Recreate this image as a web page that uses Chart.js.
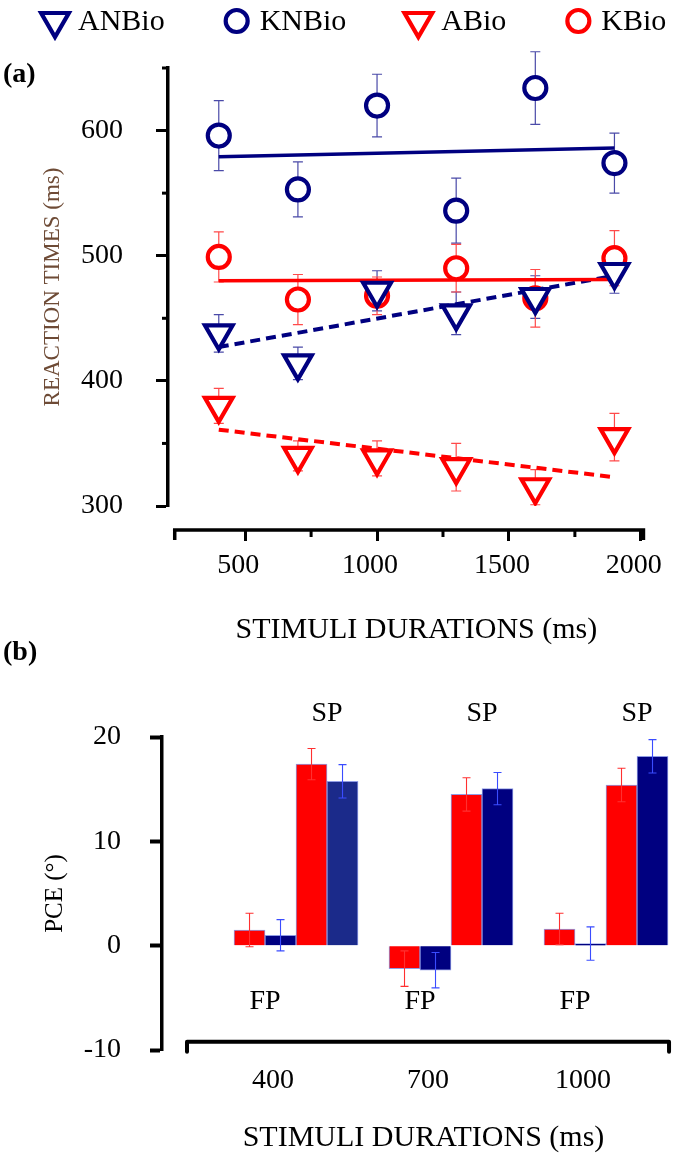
<!DOCTYPE html>
<html><head><meta charset="utf-8">
<script src="https://cdn.jsdelivr.net/npm/chart.js@4.4.1/dist/chart.umd.min.js"></script>
<style>
html,body{margin:0;padding:0;background:#fff;}
#wrap{position:relative;width:685px;height:1160px;overflow:hidden;background:#fff;}
#cA{position:absolute;left:0;top:0;}
#cB{position:absolute;left:0;top:625px;}
</style></head><body>
<div id="wrap"><canvas id="cA" width="685" height="660"></canvas><canvas id="cB" width="685" height="535"></canvas></div>
<script>
// ---------- Panel (a) data ----------
const durationsA = [400, 700, 1000, 1300, 1600, 1900];
const anbio    = [438, 414, 472, 454, 467, 487];
const anbioErr = [15, 13, 16, 17, 17, 17];
const knbio    = [596, 553, 620, 536, 634, 574];
const knbioErr = [28, 22, 25, 26, 29, 24];
const abio     = [380, 340, 338, 331, 315, 355];
const abioErr  = [14, 12, 14, 19, 14, 19];
const kbio     = [499, 465, 468, 490, 466, 498];
const kbioErr  = [20, 20, 15, 19, 23, 22];
const trendX     = [400, 1900];
const knbioTrend = [579, 586];
const kbioTrend  = [480, 481];
const anbioTrend = [427, 484];
const abioTrend  = [361, 323];
const yTicksA = [300, 350, 400, 450, 500, 550, 600, 650];
const xTicksA = [500, 750, 1000, 1250, 1500, 1750, 2000];

// ---------- Panel (b) data ----------
const durationsB  = [400, 700, 1000];
const fpBio       = [1.5, -2.2, 1.6];
const fpBioErr    = [1.6, 1.7, 1.5];
const fpNBio      = [1.0, -2.35, 0.2];
const fpNBioErr   = [1.5, 1.7, 1.6];
const spBio       = [17.4, 14.5, 15.4];
const spBioErr    = [1.5, 1.6, 1.6];
const spNBio      = [15.75, 15.05, 18.15];
const spNBioErr   = [1.6, 1.55, 1.6];
const yTicksB = [-10, 0, 10, 20];

const FONT = "'Liberation Serif','Times New Roman',serif";
Chart.defaults.font.family = FONT;
Chart.defaults.color = '#000';

const NAVY = '#000080', RED = '#ff0000';
function pts(xs, ys){ return xs.map((x, i) => ({x: x, y: ys[i]})); }

function drawMarker(ctx, style, x, y, r, color, lw){
  ctx.save();
  ctx.lineWidth = lw; ctx.strokeStyle = color; ctx.fillStyle = '#fff';
  ctx.beginPath();
  if (style === 'circle') ctx.arc(x, y, r, 0, Math.PI * 2);
  else {
    const h = r * Math.sqrt(3) / 2;
    ctx.moveTo(x - h, y - r / 2); ctx.lineTo(x + h, y - r / 2); ctx.lineTo(x, y + r); ctx.closePath();
  }
  ctx.fill(); ctx.stroke();
  ctx.restore();
}

// axis geometry constants (values in data units)
const xAxisPosA = 280.8, xAxisStartA = 233, xAxisEndA = 2010;
const xAxisPosB = -9.2, xAxisStartB = 189, xAxisEndB = 1122;
const spLabelY = 22.2, fpLabelY = -5.4;

const panelAPlugin = {
  id: 'panelA',
  beforeDatasetsDraw(chart){
    const {ctx, scales: {x, y}} = chart;
    chart.data.datasets.forEach(ds => {
      if (!ds.err) return;
      ctx.save();
      ctx.strokeStyle = ds.errColor; ctx.lineWidth = 1.2;
      ds.data.forEach((p, i) => {
        const px = x.getPixelForValue(p.x);
        const t = y.getPixelForValue(p.y + ds.err[i]);
        const b = y.getPixelForValue(p.y - ds.err[i]);
        ctx.beginPath();
        ctx.moveTo(px, t); ctx.lineTo(px, b);
        ctx.moveTo(px - 5, t); ctx.lineTo(px + 5, t);
        ctx.moveTo(px - 5, b); ctx.lineTo(px + 5, b);
        ctx.stroke();
      });
      ctx.restore();
    });
  },
  afterDraw(chart){
    const {ctx, scales: {x, y}, chartArea} = chart;
    ctx.save();
    ctx.strokeStyle = '#000'; ctx.lineWidth = 3;
    yTicksA.filter(v => v % 100 !== 0).forEach(v => {
      const py = y.getPixelForValue(v);
      ctx.beginPath(); ctx.moveTo(chartArea.left - 6, py); ctx.lineTo(chartArea.left, py); ctx.stroke();
    });
    const y0 = y.getPixelForValue(xAxisPosA);
    const xs = x.getPixelForValue(xAxisStartA), xe = x.getPixelForValue(xAxisEndA);
    ctx.lineWidth = 3.5;
    ctx.beginPath();
    ctx.moveTo(xs, y0 + 10); ctx.lineTo(xs, y0); ctx.lineTo(xe, y0); ctx.lineTo(xe, y0 + 10);
    ctx.stroke();
    ctx.lineWidth = 3;
    xTicksA.filter(v => v % 500 !== 0).forEach(v => {
      const px = x.getPixelForValue(v);
      ctx.beginPath(); ctx.moveTo(px, y0); ctx.lineTo(px, y0 + 7); ctx.stroke();
    });
    ctx.font = '30px ' + FONT; ctx.textBaseline = 'middle'; ctx.textAlign = 'left';
    let lx = 42; const ly = 21;
    chart.data.datasets.filter(d => d.legend).forEach(d => {
      drawMarker(ctx, d.pointStyle, lx + 13, ly, d.pointRadius, d.pointBorderColor, d.pointBorderWidth);
      ctx.fillStyle = '#000';
      ctx.fillText(d.label, lx + 36, ly + 1);
      lx += 36 + ctx.measureText(d.label).width + 59;
    });
    ctx.font = 'bold 28px ' + FONT;
    ctx.fillText('(a)', 3, 75);
    ctx.restore();
  }
};

new Chart(document.getElementById('cA'), {
  type: 'scatter',
  data: {
    datasets: [
      {label: 'ANBio', data: pts(durationsA, anbio), err: anbioErr, errColor: '#4a4aa8', legend: true,
       pointStyle: 'triangle', pointRotation: 180, pointRadius: 16, pointBorderColor: NAVY, pointBackgroundColor: '#fff', pointBorderWidth: 4.2, order: 1},
      {label: 'KNBio', data: pts(durationsA, knbio), err: knbioErr, errColor: '#4a4aa8', legend: true,
       pointStyle: 'circle', pointRadius: 11, pointBorderColor: NAVY, pointBackgroundColor: '#fff', pointBorderWidth: 4.2, order: 2},
      {label: 'ABio', data: pts(durationsA, abio), err: abioErr, errColor: '#ff4a4a', legend: true,
       pointStyle: 'triangle', pointRotation: 180, pointRadius: 16, pointBorderColor: RED, pointBackgroundColor: '#fff', pointBorderWidth: 4.2, order: 3},
      {label: 'KBio', data: pts(durationsA, kbio), err: kbioErr, errColor: '#ff4a4a', legend: true,
       pointStyle: 'circle', pointRadius: 11, pointBorderColor: RED, pointBackgroundColor: '#fff', pointBorderWidth: 4.2, order: 4},
      {type: 'line', label: 'KNBio trend', data: pts(trendX, knbioTrend), borderColor: NAVY, borderWidth: 3.5, pointRadius: 0, fill: false, order: 5},
      {type: 'line', label: 'KBio trend', data: pts(trendX, kbioTrend), borderColor: RED, borderWidth: 3.5, pointRadius: 0, fill: false, order: 6},
      {type: 'line', label: 'ANBio trend', data: pts(trendX, anbioTrend), borderColor: NAVY, borderWidth: 4, borderDash: [10, 6], pointRadius: 0, fill: false, order: 7},
      {type: 'line', label: 'ABio trend', data: pts(trendX, abioTrend), borderColor: RED, borderWidth: 4, borderDash: [10, 6], pointRadius: 0, fill: false, order: 8}
    ]
  },
  options: {
    responsive: false, animation: false, events: [],
    layout: {padding: {top: 68, bottom: 154, left: 0, right: 0}},
    plugins: {legend: {display: false}, tooltip: {enabled: false}},
    scales: {
      x: {
        type: 'linear', position: {y: xAxisPosA}, min: 207.5, max: 2090.9, offset: false,
        afterBuildTicks(s){ s.ticks = xTicksA.map(v => ({value: v})); },
        afterFit(s){ s.height = 118; s.paddingLeft = 0; s.paddingRight = 0; },
        grid: {drawOnChartArea: false, drawTicks: true, tickLength: 11, tickWidth: 3,
               tickColor: c => (c.tick && c.tick.value % 500 === 0) ? '#000' : 'rgba(0,0,0,0)'},
        border: {display: false},
        ticks: {autoSkip: false, maxRotation: 0, padding: 8, labelOffset: -7, color: '#000', font: {size: 28},
                callback: v => (v % 500 === 0 ? String(v) : '')},
        title: {display: true, text: 'STIMULI DURATIONS (ms)', color: '#000', font: {size: 30}, padding: 0}
      },
      y: {
        min: 300, max: 650,
        afterBuildTicks(s){ s.ticks = yTicksA.map(v => ({value: v})); },
        afterFit(s){ s.width = 168; s.paddingTop = 0; s.paddingBottom = 0; },
        grid: {drawOnChartArea: false, drawTicks: true, tickLength: 12, tickWidth: 3,
               tickColor: c => (c.tick && c.tick.value % 100 === 0) ? '#000' : 'rgba(0,0,0,0)'},
        border: {display: true, width: 3.5, color: '#000'},
        ticks: {autoSkip: false, padding: 33, color: '#000', font: {size: 28},
                callback: v => (v % 100 === 0 ? String(v) : '')},
        title: {display: true, text: 'REACTION TIMES (ms)', color: '#6e4b36', font: {size: 23}, padding: {top: 39, bottom: 0}}
      }
    }
  },
  plugins: [panelAPlugin]
});

const panelBPlugin = {
  id: 'panelB',
  afterDatasetsDraw(chart){
    const {ctx, scales: {y}} = chart;
    chart.data.datasets.forEach((ds, di) => {
      const meta = chart.getDatasetMeta(di);
      ctx.save();
      ctx.strokeStyle = ds.errColor; ctx.lineWidth = 1.1;
      meta.data.forEach((el, i) => {
        const v = ds.data[i].y, e = ds.err[i];
        const t = y.getPixelForValue(v + e), b = y.getPixelForValue(v - e);
        ctx.beginPath();
        ctx.moveTo(el.x, t); ctx.lineTo(el.x, b);
        ctx.moveTo(el.x - 4, t); ctx.lineTo(el.x + 4, t);
        ctx.moveTo(el.x - 4, b); ctx.lineTo(el.x + 4, b);
        ctx.stroke();
      });
      ctx.restore();
    });
  },
  afterDraw(chart){
    const {ctx, scales: {x, y}} = chart;
    ctx.save();
    const y0 = y.getPixelForValue(xAxisPosB);
    const xs = x.getPixelForValue(xAxisStartB), xe = x.getPixelForValue(xAxisEndB);
    ctx.strokeStyle = '#000'; ctx.lineWidth = 4; ctx.lineCap = 'round'; ctx.lineJoin = 'round';
    ctx.beginPath();
    ctx.moveTo(xs, y0 + 10); ctx.lineTo(xs, y0); ctx.lineTo(xe, y0); ctx.lineTo(xe, y0 + 10);
    ctx.stroke();
    ctx.fillStyle = '#000'; ctx.font = '28px ' + FONT; ctx.textAlign = 'center'; ctx.textBaseline = 'middle';
    const m0 = chart.getDatasetMeta(0), m1 = chart.getDatasetMeta(1), m2 = chart.getDatasetMeta(2), m3 = chart.getDatasetMeta(3);
    durationsB.forEach((d, i) => {
      ctx.fillText('SP', (m2.data[i].x + m3.data[i].x) / 2, y.getPixelForValue(spLabelY));
      ctx.fillText('FP', (m0.data[i].x + m1.data[i].x) / 2, y.getPixelForValue(fpLabelY));
    });
    ctx.textAlign = 'left';
    ctx.font = 'bold 28px ' + FONT;
    ctx.fillText('(b)', 3, 28);
    ctx.restore();
  }
};

new Chart(document.getElementById('cB'), {
  type: 'bar',
  data: {
    datasets: [
      {label: 'FP Bio', data: pts(durationsB, fpBio), err: fpBioErr, backgroundColor: RED, errColor: '#ff3030'},
      {label: 'FP NBio', data: pts(durationsB, fpNBio), err: fpNBioErr, backgroundColor: NAVY, errColor: '#3a4cff'},
      {label: 'SP Bio', data: pts(durationsB, spBio), err: spBioErr, backgroundColor: RED, errColor: '#ff3030'},
      {label: 'SP NBio', data: pts(durationsB, spNBio), err: spNBioErr, backgroundColor: ['#1b2a8a', NAVY, NAVY], errColor: '#3a4cff'}
    ]
  },
  options: {
    responsive: false, animation: false, events: [],
    layout: {padding: {top: 112, bottom: 110, left: 0, right: 0}},
    plugins: {legend: {display: false}, tooltip: {enabled: false}},
    datasets: {bar: {barThickness: 31, borderWidth: 1, borderColor: 'rgba(70,90,210,0.6)'}},
    scales: {
      x: {
        type: 'linear', position: {y: xAxisPosB}, min: 140.6, max: 1152.9, offset: false,
        afterBuildTicks(s){ s.ticks = durationsB.map(v => ({value: v})); },
        afterFit(s){ s.height = 114; s.paddingLeft = 0; s.paddingRight = 0; },
        grid: {display: false, drawTicks: false, offset: false},
        border: {display: false},
        ticks: {autoSkip: false, maxRotation: 0, padding: 22, labelOffset: -23, color: '#000', font: {size: 28},
                callback: v => String(v)},
        title: {display: true, text: 'STIMULI DURATIONS (ms)', color: '#000', font: {size: 30}, padding: 0}
      },
      y: {
        min: -10, max: 20,
        afterBuildTicks(s){ s.ticks = yTicksB.map(v => ({value: v})); },
        afterFit(s){ s.width = 162; s.paddingTop = 0; s.paddingBottom = 0; },
        grid: {drawOnChartArea: false, drawTicks: true, tickLength: 12, tickWidth: 4, tickColor: '#000'},
        border: {display: true, width: 3.5, color: '#000'},
        ticks: {autoSkip: false, padding: 29, color: '#000', font: {size: 28}},
        title: {display: true, text: 'PCE (°)', color: '#000', font: {size: 25}, padding: {top: 40, bottom: 0}}
      }
    }
  },
  plugins: [panelBPlugin]
});
</script>
</body></html>
